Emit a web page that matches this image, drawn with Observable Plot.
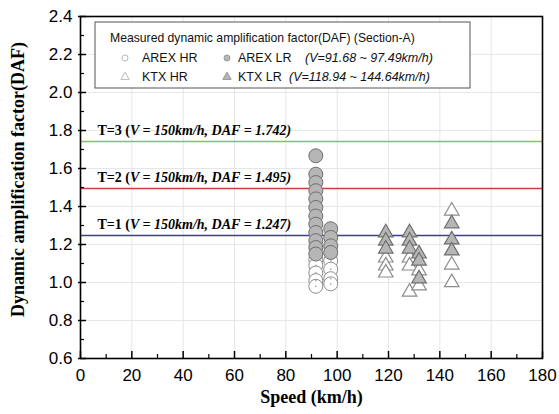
<!DOCTYPE html>
<html><head><meta charset="utf-8">
<script src="https://cdn.jsdelivr.net/npm/d3@7"></script>
<script src="https://cdn.jsdelivr.net/npm/@observablehq/plot@0.6"></script>
<style>body{margin:0;background:#fff} #chart{width:559px;height:414px}</style>
</head><body><div id="chart"></div>
<script>
// ---- axes ----
const xTicks = [0, 20, 40, 60, 80, 100, 120, 140, 160, 180];
const xMinorTicks = [10, 30, 50, 70, 90, 110, 130, 150, 170];
const yTicks = [0.6, 0.8, 1.0, 1.2, 1.4, 1.6, 1.8, 2.0, 2.2, 2.4];
const yMinorTicks = [0.7, 0.9, 1.1, 1.3, 1.5, 1.7, 1.9, 2.1, 2.3];
const xTitle = "Speed (km/h)";
const yTitle = "Dynamic amplification factor(DAF)";

// ---- limit lines ----
const limitT = ["T=1", "T=2", "T=3"];
const limitV = [150, 150, 150];
const limitDAF = [1.247, 1.495, 1.742];
const limitColors = ["#3a3aa8", "#d43c3c", "#55dc55"];

// ---- measured data ----
const arexLRSpeed = [91.68,91.68,91.68,91.68,91.68,91.68,91.68,91.68,91.68,91.68,91.68,91.68, 97.49,97.49,97.49,97.49];
const arexLRDAF   = [1.667,1.570,1.526,1.483,1.440,1.395,1.350,1.307,1.263,1.220,1.184,1.150, 1.283,1.237,1.193,1.158];
const arexHRSpeed = [91.68,91.68,91.68,91.68,91.68, 97.49,97.49,97.49,97.49];
const arexHRDAF   = [1.120,1.090,1.050,1.010,0.980, 1.114,1.070,1.020,0.993];
const ktxLRSpeed = [118.94,118.94,118.94, 128.2,128.2,128.2, 131.9,131.9,131.9, 144.64,144.64,144.64];
const ktxLRDAF   = [1.262,1.219,1.177, 1.262,1.219,1.177, 1.151,1.114,1.020, 1.310,1.225,1.167];
const ktxHRSpeed = [118.94,118.94,118.94, 128.2,128.2,128.2, 131.9,131.9, 144.64,144.64,144.64];
const ktxHRDAF   = [1.130,1.088,1.051, 1.130,1.088,0.950, 1.062,0.983, 1.377,1.093,1.000];

// ---- legend text ----
const legendTitle = "Measured dynamic amplification factor(DAF) (Section-A)";
const legendNames = ["AREX HR", "AREX LR", "KTX HR", "KTX LR"];
const legendRanges = ["(V=91.68 ~ 97.49km/h)", "(V=118.94 ~ 144.64km/h)"];

const zip = (s, d) => s.map((v, i) => ({speed: v, daf: d[i]}));
const arexLR = zip(arexLRSpeed, arexLRDAF);
const arexHR = zip(arexHRSpeed, arexHRDAF);
const ktxLR = zip(ktxLRSpeed, ktxLRDAF);
const ktxHR = zip(ktxHRSpeed, ktxHRDAF);
const limits = limitT.map((t, i) => ({t, v: limitV[i], daf: limitDAF[i], color: limitColors[i]}));

const hrStroke = "#8c8c8c", lrStroke = "#6e6e6e", lrFill = "#b6b6b6";
const serif = "'Liberation Serif', 'Times New Roman', serif";
const blank = () => "";

const plot = Plot.plot({
  width: 559, height: 414,
  marginLeft: 80, marginRight: 17, marginTop: 16, marginBottom: 56,
  x: {domain: [0, 180]},
  y: {domain: [0.6, 2.4]},
  style: {fontFamily: "'Liberation Sans', Arial, sans-serif", fontSize: "17px", background: "white", color: "black", overflow: "visible"},
  marks: [
    Plot.gridX(xTicks, {stroke: "#e6e6e6", strokeOpacity: 1}),
    Plot.gridY(yTicks, {stroke: "#e6e6e6", strokeOpacity: 1}),
    Plot.ruleY(limits, {y: "daf", stroke: "color", strokeWidth: 1.6}),
    Plot.text(limits, {y: "daf", frameAnchor: "left", dx: 17, dy: -11, textAnchor: "start",
      text: d => `${d.t} (V = ${d.v}km/h, DAF = ${d.daf})`,
      fontFamily: serif, fontWeight: "bold", fontSize: 14}),
    Plot.dot(arexHR, {x: "speed", y: "daf", r: 7, fill: "white", stroke: hrStroke, strokeWidth: 1}),
    Plot.dot(arexHR, {x: "speed", y: "daf", r: 0.9, fill: "#aaa"}),
    Plot.dot(arexLR, {x: "speed", y: "daf", r: 7, fill: lrFill, stroke: lrStroke, strokeWidth: 1}),
    Plot.dot(ktxHR, {x: "speed", y: "daf", symbol: "triangle", r: 5.4, fill: "white", stroke: hrStroke, strokeWidth: 1.2}),
    Plot.dot(ktxLR, {x: "speed", y: "daf", symbol: "triangle", r: 5.4, fill: lrFill, stroke: lrStroke, strokeWidth: 1.2}),
    // inward ticks
    Plot.axisX(xTicks, {anchor: "bottom", tickSize: 7, dy: -7, tickFormat: blank, label: null, strokeWidth: 1.5}),
    Plot.axisX(xMinorTicks, {anchor: "bottom", tickSize: 4, dy: -4, tickFormat: blank, label: null, strokeWidth: 1.2}),
    Plot.axisY(yTicks, {anchor: "left", tickSize: 8, dx: 6, tickFormat: blank, label: null, strokeWidth: 1.5}),
    Plot.axisY(yMinorTicks, {anchor: "left", tickSize: 4, dx: 4, tickFormat: blank, label: null, strokeWidth: 1.2}),
    // tick labels
    Plot.axisX(xTicks, {anchor: "bottom", tickSize: 0, tickPadding: 10, label: null, fontSize: 17}),
    Plot.axisY(yTicks, {anchor: "left", tickSize: 0, tickPadding: 8, label: null, fontSize: 17, tickFormat: d3.format(".1f")}),
    Plot.frame({stroke: "black", strokeWidth: 1.6}),
    Plot.text([xTitle], {frameAnchor: "bottom", dy: 44, textAnchor: "middle", text: d => d, fontFamily: serif, fontWeight: "bold", fontSize: 18}),
    Plot.text([yTitle], {frameAnchor: "left", dx: -62, dy: -8, rotate: -90, textAnchor: "middle", text: d => d, fontFamily: serif, fontWeight: "bold", fontSize: 18})
  ]
});
document.getElementById("chart").appendChild(plot);

const svg = d3.select(plot);
// mixed upright / italic limit labels
svg.selectAll("text").filter(function() { return /^T=\d/.test(this.textContent); }).each(function() {
  const s = this.textContent;
  const i = s.indexOf("(") + 1;
  const el = d3.select(this);
  el.text(null);
  el.append("tspan").text(s.slice(0, i));
  el.append("tspan").attr("font-style", "italic").text(s.slice(i));
});

// legend (inside plot area)
const lg = svg.append("g").attr("font-family", "'Liberation Sans', Arial, sans-serif").attr("font-size", 12)
  .attr("fill", "#111").attr("text-anchor", "start");
lg.append("rect").attr("x", 95).attr("y", 22).attr("width", 375).attr("height", 66).attr("fill", "white").attr("stroke", "#555").attr("stroke-width", 1);
lg.append("text").attr("x", 110).attr("y", 42).attr("font-size", 12.2).text(legendTitle);
const rows = [62, 81];
const symX = [125, 227], nameX = [142, 238], rangeX = [305, 289];
rows.forEach((ry, ri) => {
  [0, 1].forEach(ci => {
    const lr = ci === 1;
    if (ri === 0) {
      lg.append("circle").attr("cx", symX[ci]).attr("cy", ry - 4).attr("r", 3)
        .attr("fill", lr ? lrFill : "white").attr("stroke", lr ? "#999" : "#bbb");
    } else {
      const tri = d3.symbol(d3.symbolTriangle, 30)();
      lg.append("path").attr("d", tri).attr("transform", `translate(${symX[ci]},${ry - 4})`)
        .attr("fill", lr ? lrFill : "white").attr("stroke", lr ? "#999" : "#bbb");
    }
    lg.append("text").attr("x", nameX[ci]).attr("y", ry).attr("font-size", 12.5).text(legendNames[ri * 2 + ci]);
  });
  lg.append("text").attr("x", rangeX[ri]).attr("y", ry).attr("font-style", "italic").attr("font-size", 12.5).text(legendRanges[ri]);
});
</script></body></html>
